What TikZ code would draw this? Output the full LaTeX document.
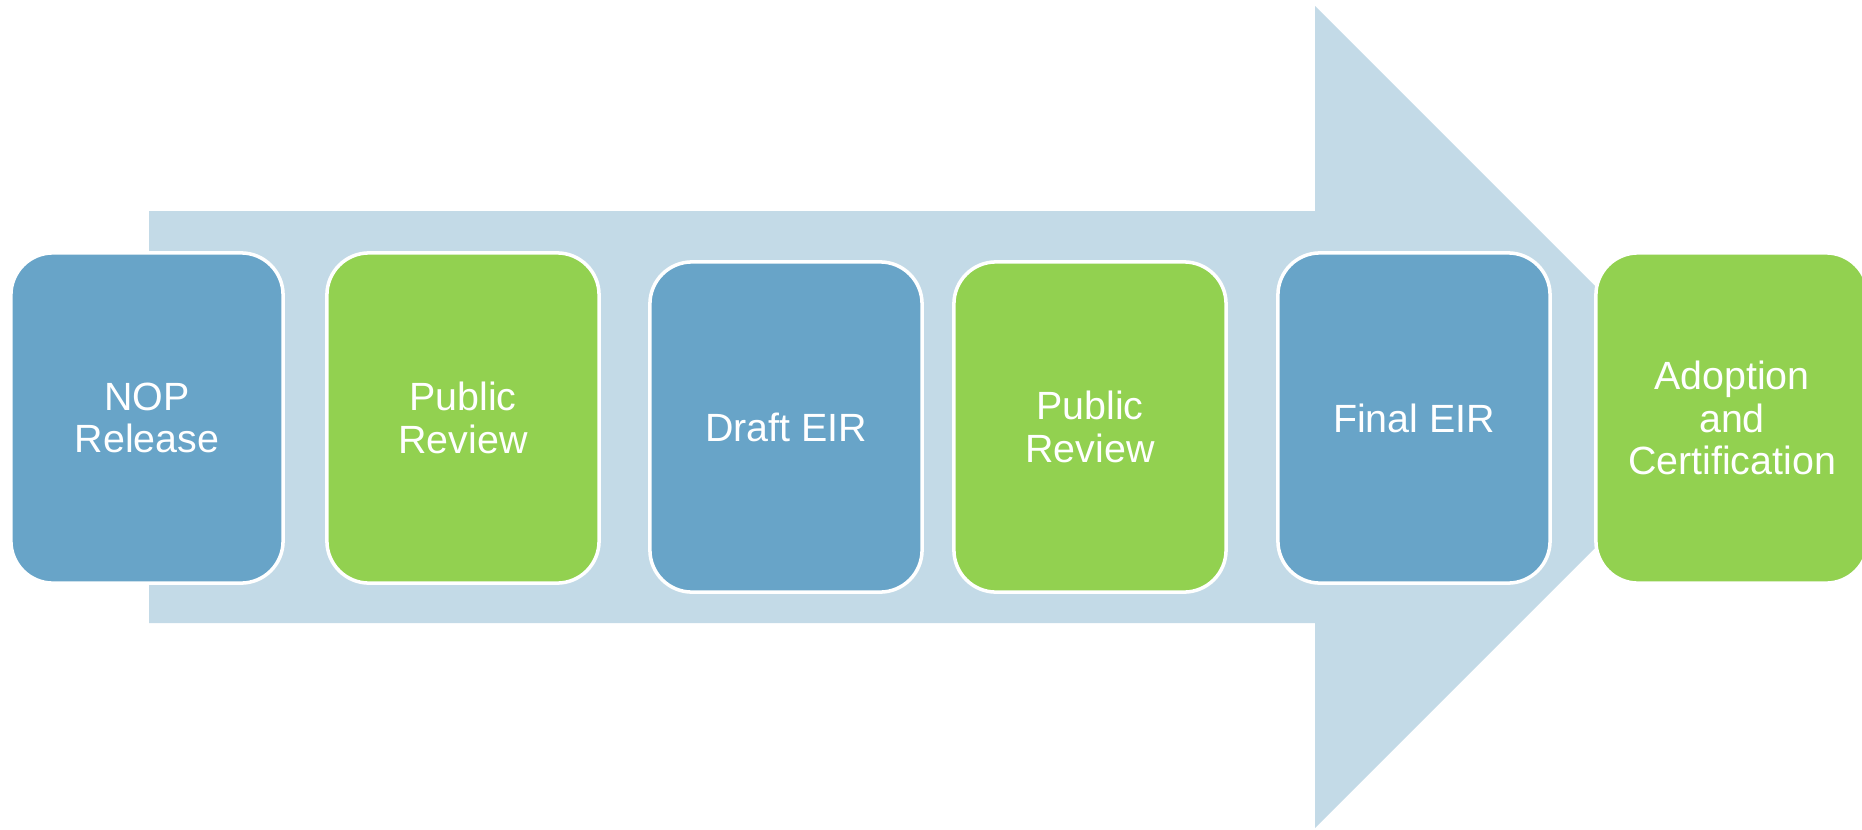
\documentclass[tikz,border=0pt]{standalone}
\usepackage{fontspec}
\setmainfont{Liberation Sans}
\definecolor{arrowblue}{HTML}{C3DAE7}
\definecolor{stepblue}{HTML}{68A4C8}
\definecolor{stepgreen}{HTML}{92D150}
\begin{document}
\begin{tikzpicture}[x=0.01cm, y=-0.01cm,
        stepbox/.style={draw=white, line width=1pt, rounded corners=0.42cm,
            minimum width=2.72cm, minimum height=3.3cm, align=center,
            text=white, font=\fontsize{11.2}{12}\selectfont},
        bluebox/.style={stepbox, fill=stepblue},
        greenbox/.style={stepbox, fill=stepgreen}]
            \useasboundingbox (0, 0) rectangle (1862, 830);
            \fill [arrowblue] (149, 211) -- (1315, 211) -- (1315, 6) -- (1726, 417)
                -- (1315, 828) -- (1315, 623) -- (149, 623) -- cycle;
            \node [bluebox] (nop) at (147, 418) {NOP\\Release};
            \node [greenbox] (review1) at (463, 418) {Public\\Review};
            \node [bluebox] (draft) at (786, 427) {Draft EIR};
            \node [greenbox] (review2) at (1090, 427) {Public\\Review};
            \node [bluebox] (final) at (1414, 418) {Final EIR};
            \node [greenbox] (adoption) at (1732, 418) {Adoption\\and\\Certification};
        \end{tikzpicture}
\end{document}
